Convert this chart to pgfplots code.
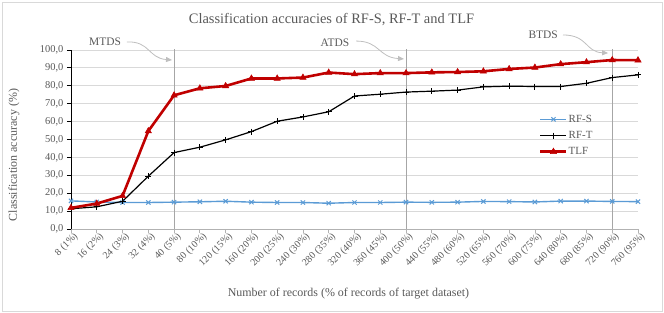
\documentclass[border=0pt]{standalone}
\usepackage{fontspec}
\setmainfont{Liberation Serif}
\usepackage{pgfplots}
\usepackage{pgfplotstable}
\pgfplotsset{compat=1.18}
\usetikzlibrary{arrows.meta}
\definecolor{txt}{HTML}{595959}
\definecolor{rfs}{HTML}{5B9BD5}
\definecolor{tlf}{HTML}{C00000}
\definecolor{gridc}{HTML}{D9D9D9}
\definecolor{vl}{HTML}{A6A6A6}
\definecolor{arr}{HTML}{BFBFBF}

\pgfplotstableread{
x rfs rft tlf
0  15.7 11.3 11.8
1  15.1 12.4 14.2
2  14.8 15.5 18.5
3  14.8 29.5 54.7
4  15.0 42.7 74.7
5  15.2 45.7 78.6
6  15.5 49.8 79.9
7  15.0 54.4 84.1
8  14.8 60.2 84.1
9  14.8 62.6 84.6
10 14.4 65.5 87.4
11 14.8 74.3 86.5
12 14.8 75.3 87.1
13 15.0 76.5 87.1
14 14.9 77.0 87.5
15 15.0 77.6 87.7
16 15.4 79.4 88.1
17 15.3 79.8 89.4
18 15.1 79.6 90.2
19 15.6 79.6 92.1
20 15.6 81.4 93.2
21 15.4 84.6 94.4
22 15.3 86.1 94.3
}\datatable

\begin{document}
\begin{tikzpicture}
\useasboundingbox (-71bp,-84bp) rectangle (593bp,229bp);
\draw[gridc, line width=0.8bp] (-69bp,-82bp) rectangle (591bp,227bp);
\begin{axis}[
  at={(0bp,0bp)}, anchor=south west,
  scale only axis, width=567bp, height=179bp,
  xmin=0, xmax=22, ymin=0, ymax=100,
  clip=false,
  axis x line*=bottom, axis y line*=left,
  axis line style={-},
  x axis line style={draw=black!30, line width=0.8bp},
  y axis line style={draw=black, line width=0.8bp},
  xtick={0,...,22},
  xticklabels={8 (1\%),16 (2\%),24 (3\%),32 (4\%),40 (5\%),80 (10\%),120 (15\%),160 (20\%),200 (25\%),240 (30\%),280 (35\%),320 (40\%),360 (45\%),400 (50\%),440 (55\%),480 (60\%),520 (65\%),560 (70\%),600 (75\%),640 (80\%),680 (85\%),720 (90\%),760 (95\%)},
  ytick={0,10,...,100},
  tick align=outside, major tick length=4bp,
  xtick style={draw=black!30, line width=0.8bp},
  ytick style={draw=black, line width=0.8bp},
  xticklabel style={rotate=45, anchor=north east, inner sep=0.5bp, font=\fontsize{10}{11}\selectfont, text=txt, xshift=3bp, yshift=0bp},
  yticklabel style={font=\fontsize{10.5}{12}\selectfont, text=txt, /pgf/number format/.cd, fixed, fixed zerofill, precision=1, use comma},
  /pgf/number format/assume math mode=true,
  ymajorgrids, grid style={gridc, line width=0.8bp},
  legend style={at={(0.82,0.655)}, anchor=north west, draw=none, fill=none,
    font=\fontsize{11}{13}\selectfont, text=txt, row sep=5.5bp, nodes={inner sep=1bp}},
  legend cell align=left,
  legend image code/.code={\draw[mark repeat=2,mark phase=2,#1] plot coordinates {(0bp,0bp) (13bp,0bp) (26bp,0bp)};},
]
\addplot[vl, line width=0.7bp, forget plot] coordinates {(4,0) (4,100.5)};
\addplot[vl, line width=0.7bp, forget plot] coordinates {(13,0) (13,100.5)};
\addplot[vl, line width=0.7bp, forget plot] coordinates {(21,0) (21,100.5)};
\addplot[rfs, line width=1.4bp, mark=x, mark size=3bp, mark options={line width=1bp}] table[x=x, y=rfs] {\datatable};
\addlegendentry{RF-S}
\addplot[black, line width=1.2bp, mark=+, mark size=3bp, mark options={line width=0.9bp}] table[x=x, y=rft] {\datatable};
\addlegendentry{RF-T}
\addplot[tlf, line width=2.6bp, mark=triangle*, mark size=3.6bp, mark options={line width=0.5bp}] table[x=x, y=tlf] {\datatable};
\addlegendentry{TLF}

\node[text=txt, font=\fontsize{11.5}{13}\selectfont] at (axis cs:1.32,104.5) {MTDS};
\draw[arr, line width=0.8bp, -{Triangle[length=6bp,width=5bp]}] (axis cs:2.17,104.5) .. controls (axis cs:3.07,105) and (axis cs:2.99,95.5) .. (axis cs:3.92,94.4);
\node[text=txt, font=\fontsize{11.5}{13}\selectfont] at (axis cs:10.24,103.9) {ATDS};
\draw[arr, line width=0.8bp, -{Triangle[length=6bp,width=5bp]}] (axis cs:11.06,105) .. controls (axis cs:11.99,105) and (axis cs:11.91,96) .. (axis cs:12.92,95.0);
\node[text=txt, font=\fontsize{11.5}{13}\selectfont] at (axis cs:18.32,108.4) {BTDS};
\draw[arr, line width=0.8bp, -{Triangle[length=6bp,width=5bp]}] (axis cs:19.09,108.4) .. controls (axis cs:20.06,108.4) and (axis cs:19.95,98.9) .. (axis cs:20.84,98.3);
\end{axis}
\node[text=txt, font=\fontsize{14.5}{16}\selectfont, anchor=base] at (260.5bp,205bp) {Classification accuracies of RF-S, RF-T and TLF};
\node[text=txt, font=\fontsize{12}{14}\selectfont, rotate=90] at (-57bp,74bp) {Classification accuracy (\%)};
\node[text=txt, font=\fontsize{12}{14}\selectfont, anchor=base] at (277.5bp,-67bp) {Number of records (\% of records of target dataset)};
\end{tikzpicture}
\end{document}
